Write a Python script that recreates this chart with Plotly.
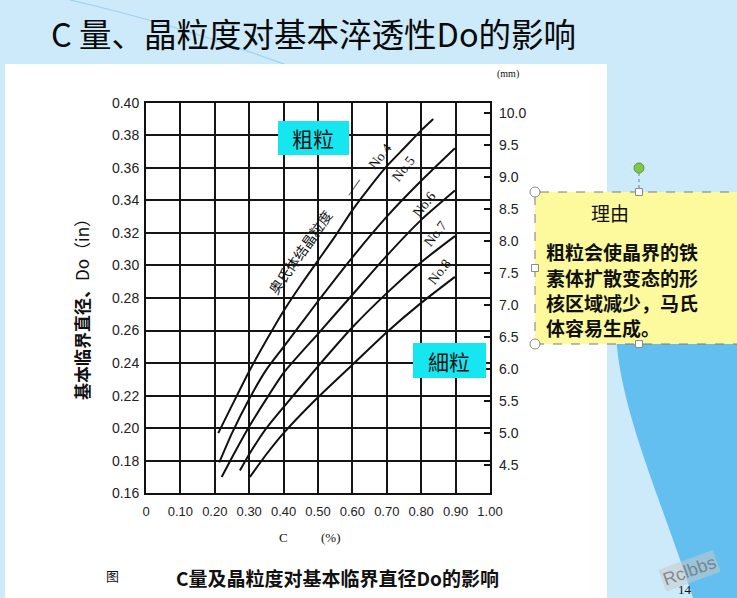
import plotly.graph_objects as go

# ---------------- data ----------------
c_no4 = [0.21, 0.25, 0.30, 0.35, 0.40, 0.45, 0.50, 0.55, 0.60, 0.65, 0.70, 0.75, 0.80, 0.835]
do_no4 = [0.197, 0.214, 0.235, 0.254, 0.272, 0.288, 0.303, 0.318, 0.334, 0.348, 0.361, 0.372, 0.383, 0.390]

c_no5 = [0.213, 0.25, 0.30, 0.35, 0.40, 0.50, 0.60, 0.70, 0.80, 0.898]
do_no5 = [0.179, 0.197, 0.218, 0.236, 0.250, 0.278, 0.305, 0.330, 0.352, 0.372]

c_no6 = [0.22, 0.25, 0.30, 0.35, 0.40, 0.50, 0.60, 0.70, 0.80, 0.898]
do_no6 = [0.170, 0.182, 0.201, 0.218, 0.234, 0.258, 0.282, 0.306, 0.328, 0.346]

c_no7 = [0.273, 0.30, 0.35, 0.40, 0.50, 0.60, 0.70, 0.80, 0.898]
do_no7 = [0.174, 0.184, 0.200, 0.213, 0.238, 0.262, 0.283, 0.302, 0.318]

c_no8 = [0.302, 0.35, 0.40, 0.50, 0.60, 0.70, 0.80, 0.898]
do_no8 = [0.170, 0.184, 0.197, 0.219, 0.239, 0.259, 0.277, 0.293]

x_ticks = [0.0, 0.1, 0.2, 0.3, 0.4, 0.5, 0.6, 0.7, 0.8, 0.9, 1.0]
x_ticklabels = ["0", "0.10", "0.20", "0.30", "0.40", "0.50", "0.60", "0.70", "0.80", "0.90", "1.00"]
y_ticks = [0.16, 0.18, 0.20, 0.22, 0.24, 0.26, 0.28, 0.30, 0.32, 0.34, 0.36, 0.38, 0.40]
y_ticklabels = ["0.16", "0.18", "0.20", "0.22", "0.24", "0.26", "0.28", "0.30", "0.32", "0.34", "0.36", "0.38", "0.40"]
mm_ticks = [4.5, 5.0, 5.5, 6.0, 6.5, 7.0, 7.5, 8.0, 8.5, 9.0, 9.5, 10.0]
mm_ticklabels = ["4.5", "5.0", "5.5", "6.0", "6.5", "7.0", "7.5", "8.0", "8.5", "9.0", "9.5", "10.0"]
IN_TO_MM = 25.4

curve_labels = ["No.4", "No.5", "No.6", "No.7", "No.8"]
reason_title = "理由"
reason_lines = ["粗粒会使晶界的铁", "素体扩散变态的形", "核区域减少，马氏", "体容易生成。"]

# ---------------- layout helpers ----------------
W, H = 737, 598


def px(x):
    return x / W


def py(y):
    return 1 - y / H


fig = go.Figure()

curves = [(c_no4, do_no4), (c_no5, do_no5), (c_no6, do_no6), (c_no7, do_no7), (c_no8, do_no8)]
for cx, cy in curves:
    fig.add_trace(go.Scatter(x=cx, y=cy, mode="lines",
                             line=dict(color="#111111", width=2, shape="spline", smoothing=0.6),
                             hoverinfo="skip", showlegend=False))

# invisible trace on the mm axis so that it is drawn
fig.add_trace(go.Scatter(x=c_no4, y=[v * IN_TO_MM for v in do_no4], yaxis="y2", mode="lines",
                         line=dict(color="rgba(0,0,0,0)", width=1), hoverinfo="skip", showlegend=False))

tick_font = dict(family="Liberation Sans, Arial", size=14, color="#222222")

fig.update_layout(
    width=W, height=H,
    margin=dict(l=0, r=0, t=0, b=0, pad=0, autoexpand=False),
    paper_bgcolor="#cdeafb",
    plot_bgcolor="white",
    showlegend=False,
    xaxis=dict(domain=[px(146), px(490)], range=[0, 1], tickvals=x_ticks, ticktext=x_ticklabels,
               showgrid=True, gridcolor="#151515", gridwidth=1.6, zeroline=False,
               showline=True, mirror=True, linecolor="#111111", linewidth=2,
               ticks="", ticklabelstandoff=5, automargin=False,
               tickfont=dict(family="Liberation Sans, Arial", size=13, color="#222222")),
    yaxis=dict(domain=[py(493.3), py(102.7)], range=[0.16, 0.40], tickvals=y_ticks, ticktext=y_ticklabels,
               showgrid=True, gridcolor="#151515", gridwidth=1.6, zeroline=False,
               showline=True, mirror=True, linecolor="#111111", linewidth=2,
               ticks="", ticklabelstandoff=2, tickfont=tick_font, automargin=False),
    yaxis2=dict(overlaying="y", side="right", anchor="x",
                range=[0.16 * IN_TO_MM, 0.40 * IN_TO_MM], tickvals=mm_ticks, ticktext=mm_ticklabels,
                showgrid=False, zeroline=False, showline=False,
                ticks="inside", ticklen=6, tickwidth=1.5, tickcolor="#111111",
                ticklabelstandoff=8, tickfont=tick_font, automargin=False),
)

shapes = []
# darker blue decorative region on the right
shapes.append(dict(type="path", xref="paper", yref="paper", layer="below",
                   path=(f"M {px(737)},{py(205)} C {px(660)},{py(250)} {px(610)},{py(300)} {px(617)},{py(347)} "
                         f"C {px(624)},{py(420)} {px(665)},{py(510)} {px(693)},{py(598)} "
                         f"L {px(737)},{py(598)} Z"),
                   fillcolor="#62bff0", line=dict(width=0)))
# faint decorative line at top-left
shapes.append(dict(type="path", xref="paper", yref="paper", layer="below",
                   path=f"M {px(70)},{py(0)} Q {px(180)},{py(25)} {px(300)},{py(70)}",
                   line=dict(color="#9fd2ee", width=1.2)))
# white picture area
shapes.append(dict(type="rect", xref="paper", yref="paper", layer="below",
                   x0=px(5), x1=px(607), y0=py(598), y1=py(64),
                   fillcolor="white", line=dict(width=0)))
# cyan label boxes
for (x0, y0, x1, y1) in [(278, 121, 349, 155), (413, 343, 486, 378)]:
    shapes.append(dict(type="rect", xref="paper", yref="paper", layer="above",
                       x0=px(x0), x1=px(x1), y0=py(y1), y1=py(y0),
                       fillcolor="#16e6f0", line=dict(width=0)))
# yellow callout box
shapes.append(dict(type="rect", xref="paper", yref="paper", layer="above",
                   x0=px(535), x1=px(745), y0=py(344), y1=py(192),
                   fillcolor="#fdfa9e", line=dict(color="#7a7a7a", width=1, dash="dash")))
# rotation handle line
shapes.append(dict(type="line", xref="paper", yref="paper", layer="above",
                   x0=px(639), x1=px(639), y0=py(173), y1=py(192),
                   line=dict(color="#6a7fa0", width=1, dash="dot")))
# circle handles
for (cx, cy) in [(535, 192), (535, 344)]:
    shapes.append(dict(type="circle", xref="paper", yref="paper", layer="above",
                       x0=px(cx - 5), x1=px(cx + 5), y0=py(cy + 5), y1=py(cy - 5),
                       fillcolor="white", line=dict(color="#8a8a8a", width=1)))
shapes.append(dict(type="circle", xref="paper", yref="paper", layer="above",
                   x0=px(634), x1=px(644), y0=py(173), y1=py(163),
                   fillcolor="#7cc84a", line=dict(color="#5a9a30", width=1)))
# square handles
for (cx, cy) in [(639, 192), (639, 344), (535, 268)]:
    shapes.append(dict(type="rect", xref="paper", yref="paper", layer="above",
                       x0=px(cx - 3.5), x1=px(cx + 3.5), y0=py(cy + 3.5), y1=py(cy - 3.5),
                       fillcolor="white", line=dict(color="#8a8a8a", width=1)))
fig.update_layout(shapes=shapes)


def note(text, x, y, size, family="Noto Sans CJK SC", color="#111111", angle=0, xanchor="center", **kw):
    fig.add_annotation(text=text, x=px(x), y=py(y), xref="paper", yref="paper", showarrow=False,
                       font=dict(family=family, size=size, color=color), textangle=angle,
                       xanchor=xanchor, yanchor="middle", **kw)


# slide title
note("C 量、晶粒度对基本淬透性Do的影响", 49, 33, 32.5, family="Noto Sans CJK SC", color="#0a0a0a", xanchor="left")
# axis texts
note("<b>基本临界直径、</b>Do（in）", 81, 305, 17, angle=-90)
note("C", 283, 537, 13, family="Liberation Serif")
note("(%)", 331, 537, 13, family="Liberation Serif")
note("(mm)", 508, 74, 10, family="Liberation Serif")
# caption
note("图", 112, 575, 13)
note("<b>C量及晶粒度对基本临界直径Do的影响</b>", 337, 577, 19)
# grain size labels
note("粗粒", 313, 138, 21)
note("細粒", 449, 361, 21)
note("奥氏体结晶粒度", 300, 252, 14, angle=-55)
note("——", 352, 186, 12, angle=-55)
for lab, (lx, ly) in zip(curve_labels, [(380, 156), (404, 169), (424, 204), (436, 234), (440, 272)]):
    note(lab, lx, ly, 14, family="Liberation Serif", angle=-52)
# callout text
note(reason_title, 610, 212, 19)
for i, line in enumerate(reason_lines):
    note("<b>" + line + "</b>", 545, 252 + 25 * i, 19, xanchor="left", borderpad=0)
# page number & watermark
note("Rclbbs", 689, 571, 18, family="Liberation Sans", color="rgba(110,110,110,0.75)", angle=-20,
     bgcolor="rgba(200,200,200,0.55)")
note("14", 685, 589, 13, family="Liberation Serif")

fig.write_html("out.html", config={"displayModeBar": False},
               post_script="document.body.style.margin='0';document.documentElement.style.overflow='hidden';")
